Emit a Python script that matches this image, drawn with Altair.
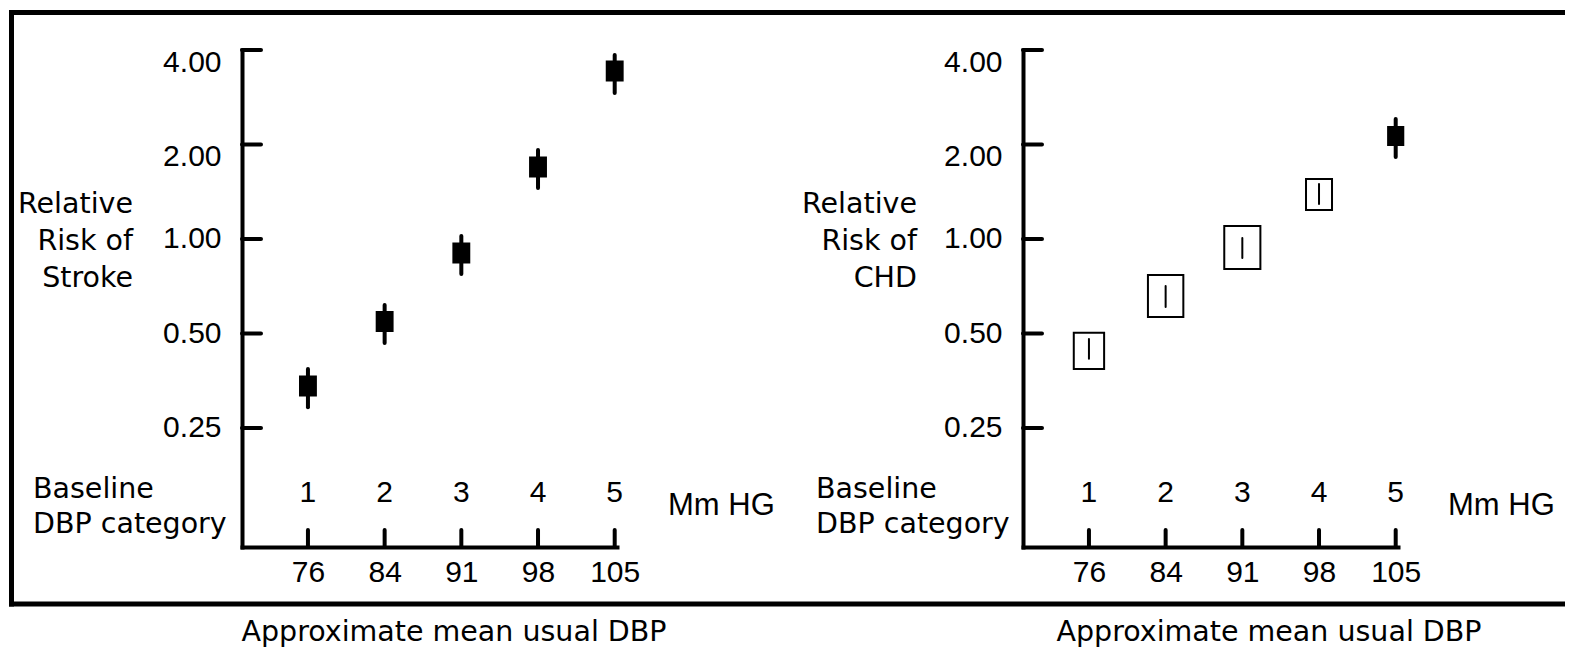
import altair as alt
import pandas as pd

# ---------------- data ----------------
categories = [1, 2, 3, 4, 5]                 # baseline DBP category
dbp_mmhg = [76, 84, 91, 98, 105]             # approximate mean usual DBP

stroke_rr = [0.340, 0.546, 0.902, 1.696, 3.43]
stroke_lo = [0.291, 0.466, 0.774, 1.454, 2.918]
stroke_hi = [0.385, 0.616, 1.022, 1.921, 3.856]
stroke_weight = [0.44, 0.44, 0.44, 0.44, 0.44]   # relative box size

chd_rr = [0.440, 0.658, 0.940, 1.386, 2.129]
chd_lo = [0.415, 0.607, 0.870, 1.293, 1.825]
chd_hi = [0.480, 0.708, 1.007, 1.497, 2.411]
chd_weight = [0.84, 0.98, 1.00, 0.72, 0.42]      # relative box size
chd_marker = ["open", "open", "open", "open", "solid"]

y_ticks = [0.25, 0.5, 1.0, 2.0, 4.0]

# ---------------- styling ----------------
BOX = "M-0.84,-1H0.84V1H-0.84Z"
FONT_TXT = "DejaVu Sans"
FONT_NUM = "Liberation Sans"

size_scale = alt.Scale(type="pow", exponent=2, domain=[0, 1], range=[0, 43 * 43])
y_scale = alt.Scale(type="log", domain=[0.1044, 4], nice=False)


def x_scale(rng):
    return alt.Scale(domain=[0.14, 5.03], range=rng, nice=False, zero=False)


def y_axis(offset):
    return alt.Axis(orient="left", offset=offset, values=y_ticks, format=".2f",
                    labelFlush=False, labelPadding=21, title=None, grid=False,
                    ticks=False, tickSize=0, domainWidth=4, domainColor="black",
                    domainCap="square", labelFont=FONT_NUM, labelFontSize=30,
                    labelColor="black", labelOverlap=False,
                    labelBaseline=alt.condition("datum.value >= 2", alt.value("alphabetic"), alt.value("middle")),
                    labelOffset=alt.condition("datum.value >= 2", alt.value(21), alt.value(0)))


x_axis = alt.Axis(orient="bottom", values=categories,
                  labelExpr=f"{dbp_mmhg}[datum.value - 1]",
                  labelPadding=34, labelBaseline="alphabetic", labelFlush=False,
                  labelOverlap=False, title=None, grid=False, ticks=False, tickSize=0,
                  domainWidth=4, domainColor="black", domainCap="square",
                  labelFont=FONT_NUM, labelFontSize=30, labelColor="black")

stroke_df = pd.DataFrame({"cat": categories, "rr": stroke_rr, "lo": stroke_lo,
                          "hi": stroke_hi, "w": stroke_weight})
chd_df = pd.DataFrame({"cat": categories, "rr": chd_rr, "lo": chd_lo,
                       "hi": chd_hi, "w": chd_weight, "marker": chd_marker})
tick_df = pd.DataFrame({"v": y_ticks})


def panel(df, xrange, yoff, kind):
    xs = x_scale(xrange)
    X = alt.X("cat:Q", scale=xs, axis=x_axis)
    ya = y_axis(yoff)
    layers = []
    if kind == "stroke":
        layers.append(alt.Chart(df).mark_rule(strokeWidth=4, strokeCap="round", color="black").encode(
            x=X, y=alt.Y("lo:Q", scale=y_scale, axis=ya), y2="hi:Q"))
        layers.append(alt.Chart(df).mark_point(shape=BOX, filled=True, fill="black", stroke="black",
                                               strokeWidth=2, opacity=1).encode(
            x=X, y=alt.Y("rr:Q", scale=y_scale, axis=ya),
            size=alt.Size("w:Q", scale=size_scale, legend=None)))
    else:
        layers.append(alt.Chart(df).mark_point(shape=BOX, filled=True, stroke="black",
                                               strokeWidth=2, opacity=1).encode(
            x=X, y=alt.Y("rr:Q", scale=y_scale, axis=ya),
            size=alt.Size("w:Q", scale=size_scale, legend=None),
            fill=alt.Fill("marker:N", scale=alt.Scale(domain=["open", "solid"], range=["white", "black"]),
                          legend=None)))
        layers.append(alt.Chart(df).mark_rule(strokeCap="round", color="black").encode(
            x=X, y=alt.Y("lo:Q", scale=y_scale, axis=ya), y2="hi:Q",
            strokeWidth=alt.StrokeWidth("marker:N", scale=alt.Scale(domain=["open", "solid"], range=[2, 4]),
                                        legend=None)))
    # category tick marks on the x axis (pointing up)
    layers.append(alt.Chart(df).mark_rule(strokeWidth=4, strokeCap="round", color="black").encode(
        x=X, y=alt.value(480), y2=alt.value(497)))
    # y tick marks (pointing right)
    layers.append(alt.Chart(tick_df).mark_rule(strokeWidth=4, strokeCap="round", color="black").encode(
        y=alt.Y("v:Q", scale=y_scale, axis=ya), x=alt.value(xrange[0]), x2=alt.value(xrange[0] + 19)))
    # category numbers
    layers.append(alt.Chart(df).mark_text(font=FONT_NUM, fontSize=30, baseline="alphabetic",
                                          align="center", color="black").encode(
        x=X, y=alt.value(452), text="cat:N"))
    return alt.layer(*layers)


one = pd.DataFrame({"k": [0]})


def note(text, x, y, align, font=FONT_TXT, size=28.5, line=37):
    return alt.Chart(one).mark_text(text=text, font=font, fontSize=size, align=align,
                                    baseline="alphabetic", lineHeight=line, color="black").encode(
        x=alt.value(x), y=alt.value(y))


def frame_line(x, x2, y, y2):
    return alt.Chart(one).mark_rule(stroke="black", strokeWidth=5, strokeCap="square").encode(
        x=alt.value(x), x2=alt.value(x2), y=alt.value(y), y2=alt.value(y2))


frame = [
    frame_line(-230.5, -230.5, -37.5, 554),     # left edge
    frame_line(-230.5, 1500, -37.5, -37.5),     # top edge
    frame_line(-230.5, 1500, 554, 554),         # bottom edge
]

notes = [
    note(["Relative", "Risk of", "Stroke"], -109, 162.5, "right"),
    note(["Relative", "Risk of", "CHD"], 675, 162.5, "right"),
    note(["Baseline", "DBP category"], -209, 448, "left", line=35),
    note(["Baseline", "DBP category"], 574, 448, "left", line=35),
    note("Mm HG", 426, 465, "left", font=FONT_NUM, size=31),
    note("Mm HG", 1206, 465, "left", font=FONT_NUM, size=31),
    note("Approximate mean usual DBP", 212, 591, "center"),
    note("Approximate mean usual DBP", 1027, 591, "center"),
]

left = panel(stroke_df, [0, 375], 0, "stroke")
right = panel(chd_df, [781, 1156], -781, "chd")

chart = alt.layer(*frame, left, right, *notes).resolve_scale(
    x="independent", y="independent"
).properties(
    width=1323, height=497,
    padding={"left": 234, "top": 42, "right": 0, "bottom": 103},
    autosize=alt.AutoSizeParams(type="none"),
    background="white",
).configure_view(stroke=None)

chart.save("out.html", embed_options={"renderer": "svg", "actions": False})
